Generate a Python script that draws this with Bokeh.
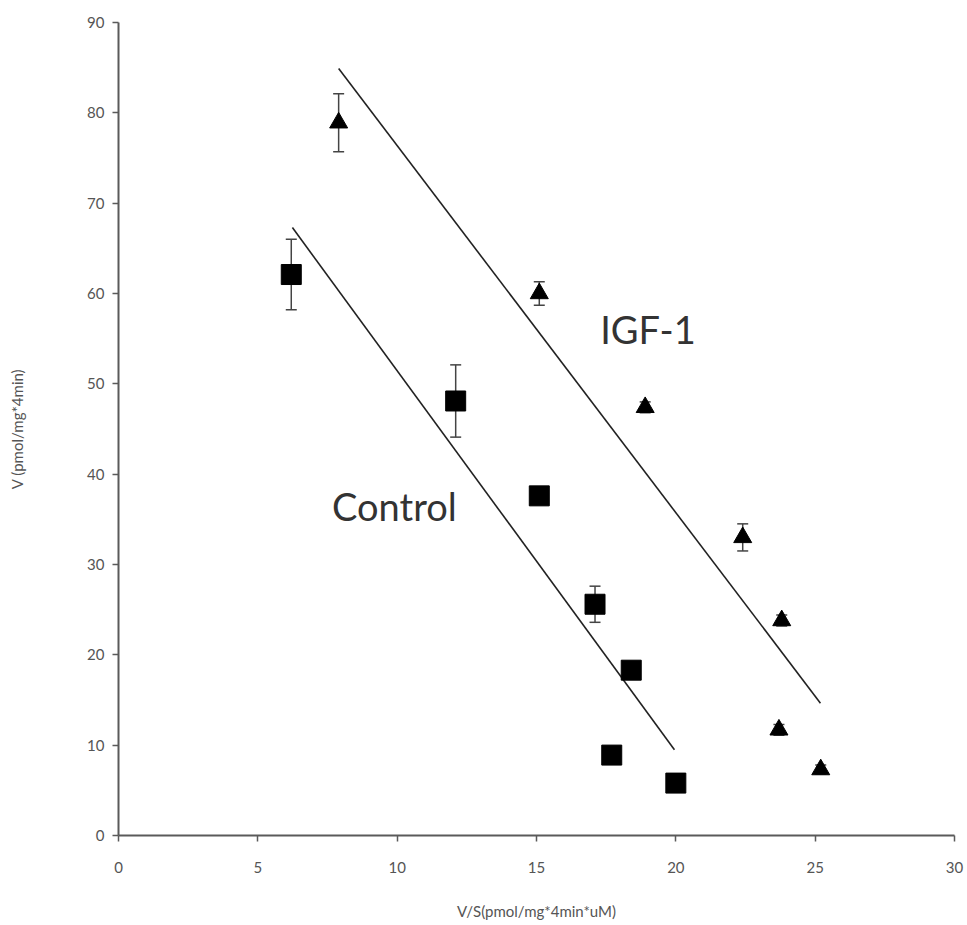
from bokeh.plotting import figure
from bokeh.models import ColumnDataSource, Whisker, TeeHead, FixedTicker, Range1d, Label
from bokeh.embed import file_html
from bokeh.resources import INLINE
from bokeh.core.properties import value

# Control (squares)
ctrl_x = [6.2, 12.1, 15.1, 17.1, 18.4, 17.7, 20.0]
ctrl_y = [62.1, 48.1, 37.6, 25.6, 18.3, 8.9, 5.8]
ctrl_err = [3.9, 4.0, 0.6, 2.0, 0.8, 0.5, 0.5]

# IGF-1 (triangles)
igf_x = [7.9, 15.1, 18.9, 22.4, 23.8, 23.7, 25.2]
igf_y = [78.9, 60.0, 47.4, 33.0, 23.8, 11.7, 7.3]
igf_err = [3.2, 1.3, 0.6, 1.5, 0.6, 0.6, 0.5]

# Regression lines (end points)
ctrl_line_x = [6.24, 19.95]
ctrl_line_y = [67.3, 9.5]
igf_line_x = [7.9, 25.19]
igf_line_y = [84.9, 14.65]

x_ticks = [0, 5, 10, 15, 20, 25, 30]
y_ticks = [0, 10, 20, 30, 40, 50, 60, 70, 80, 90]

FONT = "Lato"

p = figure(width=967, height=925, output_backend="svg", toolbar_location=None,
           x_range=Range1d(0, 30), y_range=Range1d(0, 90),
           min_border_left=118, min_border_right=13, min_border_top=22, min_border_bottom=90)
p.outline_line_color = None
p.xgrid.visible = False
p.ygrid.visible = False
p.background_fill_color = "white"
p.border_fill_color = "white"

for ax in (p.xaxis[0], p.yaxis[0]):
    ax.axis_line_color = "#5a5a5a"
    ax.axis_line_width = 2
    ax.major_tick_line_color = "#5a5a5a"
    ax.major_tick_line_width = 1.5
    ax.major_tick_out = 6
    ax.major_tick_in = 0
    ax.minor_tick_out = 0
    ax.minor_tick_in = 0
    ax.major_label_text_font = FONT
    ax.major_label_text_font_size = "15px"
    ax.major_label_text_color = "#555555"
    ax.axis_label_text_font = FONT
    ax.axis_label_text_font_size = "15px"
    ax.axis_label_text_color = "#555555"
    ax.axis_label_text_font_style = "normal"

p.xaxis.ticker = FixedTicker(ticks=x_ticks)
p.yaxis.ticker = FixedTicker(ticks=y_ticks)
p.xaxis.axis_label = "V/S(pmol/mg*4min*uM)"
p.yaxis.axis_label = "V (pmol/mg*4min)"
p.xaxis.major_label_standoff = 20
p.yaxis.major_label_standoff = 8
p.xaxis.axis_label_standoff = 26
p.yaxis.axis_label_standoff = 58

# regression lines
p.line(ctrl_line_x, ctrl_line_y, line_color="#222222", line_width=1.6)
p.line(igf_line_x, igf_line_y, line_color="#222222", line_width=1.6)

# error bars
cs = ColumnDataSource(dict(x=ctrl_x, y=ctrl_y,
                           lo=[a - b for a, b in zip(ctrl_y, ctrl_err)],
                           hi=[a + b for a, b in zip(ctrl_y, ctrl_err)]))
gs = ColumnDataSource(dict(x=igf_x, y=igf_y,
                           lo=[a - b for a, b in zip(igf_y, igf_err)],
                           hi=[a + b for a, b in zip(igf_y, igf_err)]))
for src in (cs, gs):
    w = Whisker(source=src, base="x", upper="hi", lower="lo", dimension="height",
                line_color="#444444", line_width=1.5,
                upper_head=TeeHead(size=11, line_color="#444444", line_width=1.5),
                lower_head=TeeHead(size=11, line_color="#444444", line_width=1.5))
    p.add_layout(w)

p.scatter("x", "y", source=cs, marker="square", size=20, fill_color="black", line_color="black")
p.scatter("x", "y", source=gs, marker="triangle", size=18, fill_color="black", line_color="black")

p.add_layout(Label(x=19.0, y=56.1, text="IGF-1", text_font=FONT, text_font_size="38px",
                   text_color="#333333", text_align="center", text_baseline="middle"))
p.add_layout(Label(x=9.9, y=36.5, text="Control", text_font=FONT, text_font_size="38px",
                   text_color="#333333", text_align="center", text_baseline="middle"))

open("out.html", "w").write(file_html(p, INLINE))
